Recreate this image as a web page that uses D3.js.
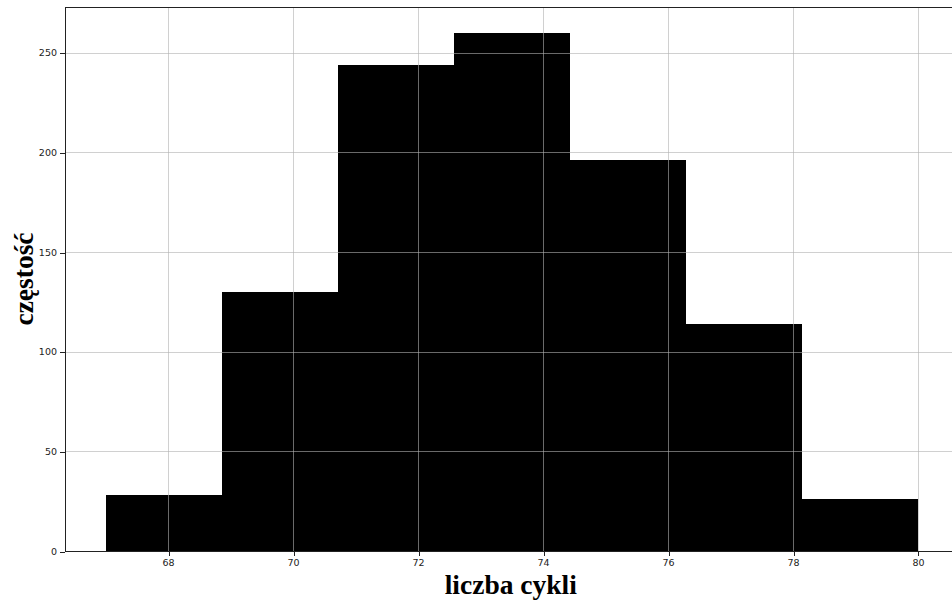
<!DOCTYPE html>
<html>
<head>
<meta charset="utf-8">
<script src="https://cdn.jsdelivr.net/npm/d3@7"></script>
<style>
  html, body { margin: 0; padding: 0; background: #fff; }
  svg { display: block; }
</style>
</head>
<body>
<svg id="chart" width="952" height="604"></svg>
<script>
// Histogram of cycle counts: bin edges and counts per bin
const binEdges = [67, 68.857, 70.714, 72.571, 74.429, 76.286, 78.143, 80];
const counts = [28, 130, 244, 260, 196, 114, 26];
const xTicks = [68, 70, 72, 74, 76, 78, 80];
const yTicks = [0, 50, 100, 150, 200, 250];
const xLabel = "liczba cykli";
const yLabel = "częstość";

const bins = counts.map((c, i) => ({ x0: binEdges[i], x1: binEdges[i + 1], count: c }));

const svg = d3.select("#chart");
const plot = { left: 65, top: 7, right: 958.6, bottom: 551 };

// matplotlib-style 5% margins around the data
const xMin = binEdges[0], xMax = binEdges[binEdges.length - 1];
const xPad = (xMax - xMin) * 0.05;
const x = d3.scaleLinear().domain([xMin - xPad, xMax + xPad]).range([plot.left, plot.right]);
const y = d3.scaleLinear().domain([0, d3.max(counts) * 1.05]).range([plot.bottom, plot.top]);

const snap = v => Math.round(v) + 0.5;

// Bars: edges rounded to whole pixels so neighbouring bars join without seams
svg.append("g")
  .attr("shape-rendering", "crispEdges")
  .selectAll("rect")
  .data(bins)
  .join("rect")
  .attr("x", d => Math.round(x(d.x0)))
  .attr("width", d => Math.round(x(d.x1)) - Math.round(x(d.x0)))
  .attr("y", d => Math.round(y(d.count)))
  .attr("height", d => Math.round(y(0)) - Math.round(y(d.count)))
  .attr("fill", "#000");

// Grid drawn on top of the bars
const grid = svg.append("g")
  .attr("stroke", "#b0b0b0")
  .attr("stroke-opacity", 0.6)
  .attr("stroke-width", 1)
  .attr("shape-rendering", "crispEdges");
grid.selectAll("line.vx")
  .data(xTicks)
  .join("line")
  .attr("class", "vx")
  .attr("x1", d => snap(x(d))).attr("x2", d => snap(x(d)))
  .attr("y1", plot.top).attr("y2", plot.bottom);
grid.selectAll("line.hy")
  .data(yTicks)
  .join("line")
  .attr("class", "hy")
  .attr("y1", d => snap(y(d))).attr("y2", d => snap(y(d)))
  .attr("x1", plot.left).attr("x2", plot.right);

// Axes
const xAxis = d3.axisBottom(x).tickValues(xTicks).tickSize(5).tickPadding(3).tickFormat(d3.format("d"));
const yAxis = d3.axisLeft(y).tickValues(yTicks).tickSize(5).tickPadding(3).tickFormat(d3.format("d"));

const gx = svg.append("g")
  .attr("transform", `translate(0,${snap(plot.bottom) - 0.5})`)
  .call(xAxis);
const gy = svg.append("g")
  .attr("transform", `translate(${snap(plot.left) - 0.5},0)`)
  .call(yAxis);

[gx, gy].forEach(g => {
  g.select(".domain").remove();
  g.selectAll(".tick line").attr("stroke", "#222").attr("shape-rendering", "crispEdges");
  g.selectAll(".tick text")
    .attr("fill", "#222")
    .style("font-family", "'DejaVu Sans', sans-serif")
    .style("font-size", "9.5px");
});
gx.selectAll(".tick line").attr("transform", "translate(0.5,0)");
gy.selectAll(".tick line").attr("transform", "translate(0,0.5)");

// Spines: left, bottom, top (right falls outside the view)
const spines = svg.append("g")
  .attr("stroke", "#222")
  .attr("stroke-width", 1)
  .attr("shape-rendering", "crispEdges");
spines.append("line")
  .attr("x1", snap(plot.left)).attr("x2", snap(plot.left))
  .attr("y1", plot.top).attr("y2", plot.bottom + 1);
spines.append("line")
  .attr("x1", plot.left).attr("x2", plot.right)
  .attr("y1", snap(plot.bottom)).attr("y2", snap(plot.bottom));
spines.append("line")
  .attr("x1", plot.left).attr("x2", plot.right)
  .attr("y1", snap(plot.top)).attr("y2", snap(plot.top));

// Axis titles
svg.append("text")
  .attr("x", (plot.left + plot.right) / 2 - 1)
  .attr("y", 594)
  .attr("text-anchor", "middle")
  .style("font-family", "'Liberation Serif', 'Times New Roman', serif")
  .style("font-weight", "bold")
  .style("font-size", "27.5px")
  .attr("fill", "#000")
  .text(xLabel);

svg.append("text")
  .attr("transform", `translate(33,${(plot.top + plot.bottom) / 2}) rotate(-90)`)
  .attr("text-anchor", "middle")
  .style("font-family", "'Liberation Serif', 'Times New Roman', serif")
  .style("font-weight", "bold")
  .style("font-size", "27.5px")
  .attr("fill", "#000")
  .text(yLabel);
</script>
</body>
</html>
